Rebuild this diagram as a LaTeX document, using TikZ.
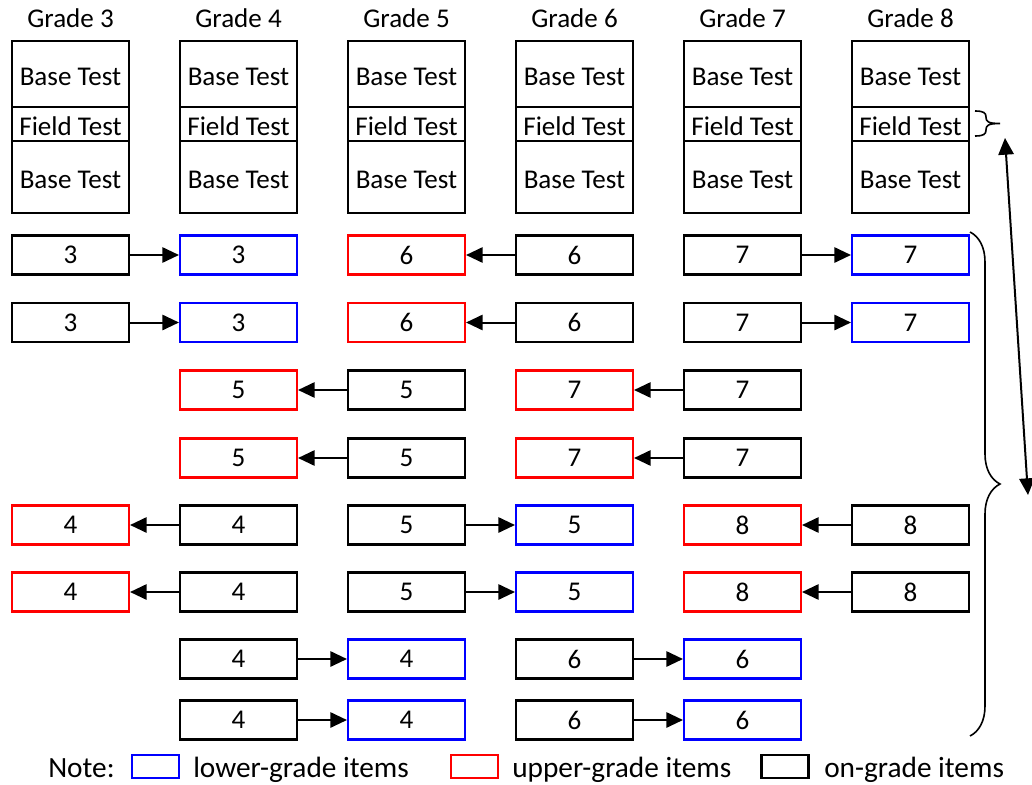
\documentclass[tikz,border=0pt]{standalone}
\usepackage{fontspec}
\setmainfont{Carlito}
\usetikzlibrary{arrows.meta,decorations.pathreplacing}
\definecolor{pblue}{RGB}{0,0,255}
\definecolor{pred}{RGB}{255,0,0}
\begin{document}
\begin{tikzpicture}[x=0.75pt,y=-0.75pt,
  every node/.style={font=\fontsize{20.3}{24}\selectfont},
  box/.style={draw,line width=1.8pt,minimum width=87.5pt,minimum height=29.5pt,inner sep=0pt},
  onbox/.style={box,draw=black},
  lowbox/.style={box,draw=pblue},
  upbox/.style={box,draw=pred},
  stackbox/.style={draw,line width=1.8pt,minimum width=87.5pt,inner sep=0pt,text height=17pt,text depth=0pt},
  link/.style={line width=1.5pt,-{Triangle[length=12.5pt,width=11.5pt]}},
  legbox/.style={draw,line width=1.8pt,minimum width=35pt,minimum height=17pt,inner sep=0pt},
  legtext/.style={anchor=base west,inner sep=0pt,font=\fontsize{22}{26}\selectfont},
  gradelabel/.style={anchor=base,inner sep=0pt}
]
\useasboundingbox (0,0) rectangle (1032,785);

% grade columns: labels and stacked test forms
\foreach \c/\x in {3/70.5,4/238.5,5/406.5,6/574.5,7/742.5,8/910.5}{
  \node[gradelabel] (g\c) at (\x,27) {Grade \c};
  \node[stackbox,minimum height=49.5pt] (s\c a) at (\x,74) {Base Test};
  \node[stackbox,minimum height=25.5pt] (s\c f) at (\x,124) {Field Test};
  \node[stackbox,minimum height=54pt] (s\c b) at (\x,177) {Base Test};
}

% rows 1-2
\foreach \r/\y in {1/255,2/322.5}{
  \node[onbox]  (r\r c1) at (70.5,\y)  {3};
  \node[lowbox] (r\r c2) at (238.5,\y) {3};
  \node[upbox]  (r\r c3) at (406.5,\y) {6};
  \node[onbox]  (r\r c4) at (574.5,\y) {6};
  \node[onbox]  (r\r c5) at (742.5,\y) {7};
  \node[lowbox] (r\r c6) at (910.5,\y) {7};
  \draw[link] (r\r c1) -- (r\r c2);
  \draw[link] (r\r c4) -- (r\r c3);
  \draw[link] (r\r c5) -- (r\r c6);
}
% rows 3-4
\foreach \r/\y in {3/390,4/458}{
  \node[upbox] (r\r c2) at (238.5,\y) {5};
  \node[onbox] (r\r c3) at (406.5,\y) {5};
  \node[upbox] (r\r c4) at (574.5,\y) {7};
  \node[onbox] (r\r c5) at (742.5,\y) {7};
  \draw[link] (r\r c3) -- (r\r c2);
  \draw[link] (r\r c5) -- (r\r c4);
}
% rows 5-6
\foreach \r/\y in {5/525,6/592}{
  \node[upbox]  (r\r c1) at (70.5,\y)  {4};
  \node[onbox]  (r\r c2) at (238.5,\y) {4};
  \node[onbox]  (r\r c3) at (406.5,\y) {5};
  \node[lowbox] (r\r c4) at (574.5,\y) {5};
  \node[upbox]  (r\r c5) at (742.5,\y) {8};
  \node[onbox]  (r\r c6) at (910.5,\y) {8};
  \draw[link] (r\r c2) -- (r\r c1);
  \draw[link] (r\r c3) -- (r\r c4);
  \draw[link] (r\r c6) -- (r\r c5);
}
% rows 7-8
\foreach \r/\y in {7/659,8/720}{
  \node[onbox]  (r\r c2) at (238.5,\y) {4};
  \node[lowbox] (r\r c3) at (406.5,\y) {4};
  \node[onbox]  (r\r c4) at (574.5,\y) {6};
  \node[lowbox] (r\r c5) at (742.5,\y) {6};
  \draw[link] (r\r c2) -- (r\r c3);
  \draw[link] (r\r c4) -- (r\r c5);
}

% small brace at the field test
\coordinate (fbtop) at (975,111);
\coordinate (fbtip) at (1000,123.5);
\coordinate (fbbot) at (975,136);
\draw[line width=1.2pt] (fbtop) .. controls (984,111) and (986,113) .. (986,117)
  .. controls (986,121) and (987,123.5) .. (fbtip)
  .. controls (987,123.5) and (986,126) .. (986,130)
  .. controls (986,134) and (984,136) .. (fbbot);

% large brace at the linking items
\coordinate (bbtop) at (970,232);
\coordinate (bbbot) at (970,736);
\draw[line width=1.2pt,decorate,decoration={brace,amplitude=22.5pt}] (bbtop) -- (bbbot);

% double-headed arrow
\coordinate (datop) at (1005,138);
\coordinate (dabot) at (1028,495);
\draw[line width=1.5pt,{Triangle[length=12.5pt,width=11.5pt]}-{Triangle[length=12.5pt,width=11.5pt]}] (datop) -- (dabot);

% legend
\node[legtext] (note) at (48,777) {Note:};
\node[legbox,draw=pblue] (lblue) at (155.5,766.5) {};
\node[legtext] (tlow) at (193,777) {lower-grade items};
\node[legbox,draw=pred] (lred) at (474.5,766.5) {};
\node[legtext] (tup) at (512,777) {upper-grade items};
\node[legbox,draw=black] (lblack) at (785,766.5) {};
\node[legtext] (ton) at (824,777) {on-grade items};
\end{tikzpicture}
\end{document}
